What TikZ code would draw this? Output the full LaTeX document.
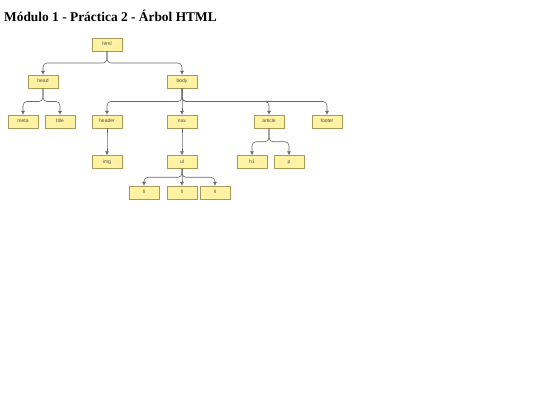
\documentclass[tikz,border=0pt]{standalone}
\usepackage{fontspec}
\setmainfont{Liberation Serif}
\setsansfont{Liberation Sans}
\usetikzlibrary{calc,arrows.meta}
\definecolor{cajafondo}{HTML}{FFF3A3}
\definecolor{cajaborde}{HTML}{A8985A}
\definecolor{linea}{HTML}{686868}
\tikzset{
    etiqueta/.style={draw=cajaborde, fill=cajafondo, minimum width=30pt, minimum height=13pt,
        inner sep=0pt, text height=3.6pt, text depth=1.2pt,
        font=\sffamily\fontsize{5}{6}\selectfont, text=black!70},
    rama/.style={draw=linea, line width=0.6pt, rounded corners=4pt, -{Latex[length=4pt,width=4pt]},
        to path={(\tikztostart) -- ($(\tikztostart)!0.5!(\tikztostart|-\tikztotarget)$) -| (\tikztotarget)}}
}
\begin{document}
\begin{tikzpicture}[x=1pt, y=-1pt]
    \useasboundingbox (0,0) rectangle (540,405);
    % Titulo
    \node[anchor=base west, inner sep=0pt, font=\bfseries\fontsize{13.4}{16}\selectfont] (titulo) at (4,21) {Módulo 1 - Práctica 2 - Árbol HTML};
    % Raiz
    \node[etiqueta] (html) at (107,44.5) {html};
    % Primer nivel
    \node[etiqueta] (head) at (43,81.5) {head};
    \node[etiqueta] (body) at (182,81.5) {body};
    % Segundo nivel
    \node[etiqueta] (meta) at (23,121.5) {meta};
    \node[etiqueta] (title) at (60,121.5) {title};
    \node[etiqueta] (header) at (107,121.5) {header};
    \node[etiqueta] (nav) at (182,121.5) {nav};
    \node[etiqueta] (article) at (269,121.5) {article};
    \node[etiqueta] (footer) at (327,121.5) {footer};
    % Tercer nivel
    \node[etiqueta] (img) at (107,162) {img};
    \node[etiqueta] (ul) at (182,162) {ul};
    \node[etiqueta] (h1) at (252,162) {h1};
    \node[etiqueta] (p) at (289,162) {p};
    % Elementos de la lista
    \node[etiqueta] (li1) at (144,192.5) {li};
    \node[etiqueta] (li2) at (182,192.5) {li};
    \node[etiqueta] (li3) at (215,192.5) {li};
    % Ramas
    \draw (html.south) edge[rama] (head.north) edge[rama] (body.north);
    \draw (head.south) edge[rama] (meta.north) edge[rama] (title.north);
    \draw (body.south) edge[rama] (header.north) edge[rama] (nav.north)
        edge[rama] (article.north) edge[rama] (footer.north);
    \draw (header.south) edge[rama] (img.north);
    \draw (nav.south) edge[rama] (ul.north);
    \draw (article.south) edge[rama] (h1.north) edge[rama] (p.north);
    \draw (ul.south) edge[rama] (li1.north) edge[rama] (li2.north) edge[rama] (li3.north);
\end{tikzpicture}
\end{document}
